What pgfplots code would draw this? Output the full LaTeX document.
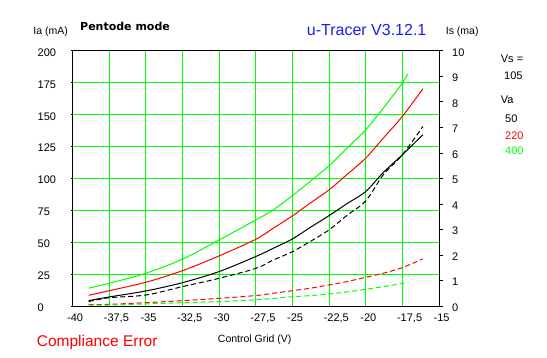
\documentclass[border=0pt]{standalone}
\usepackage{pgfplots}
\pgfplotsset{compat=1.18}
\usepackage{fontspec}
\setmainfont{Liberation Sans}
\newfontfamily\djv{DejaVu Sans}
\definecolor{lime}{RGB}{0,255,0}
\definecolor{tracerblue}{RGB}{30,30,240}
\newcommand\fs[1]{\fontsize{#1bp}{#1bp}\selectfont}

\begin{document}
\begin{tikzpicture}[x=1bp,y=1bp]
\path[use as bounding box, fill=white] (0,0) rectangle (547,357);
\begin{axis}[
  at={(72.5bp,51bp)}, anchor=south west, scale only axis,
  width=366.5bp, height=255bp,
  xmin=-40, xmax=-15, ymin=0, ymax=200,
  xtick={-40,-37.5,-35,-32.5,-30,-27.5,-25,-22.5,-20,-17.5,-15},
  xticklabels={-40,{-37,5},-35,{-32,5},-30,{-27,5},-25,{-22,5},-20,{-17,5},-15},
  ytick={0,25,50,75,100,125,150,175,200},
  yticklabels={0,25,50,75,100,125,150,175,200},
  xmajorgrids, ymajorgrids,
  grid style={lime, line width=1bp},
  xtick style={draw=none},
  ytick style={black, line width=1bp},
  xtick pos=bottom, ytick pos=left, tick align=outside,
  major tick length=2bp,
  axis line style={black, line width=1bp},
  xticklabel style={font=\fs{11}, anchor=north west, inner sep=0pt, xshift=-5.5bp, yshift=-5.7bp},
  yticklabel style={font=\fs{11}, anchor=west, inner sep=0pt, xshift=-33bp, yshift=-1.5bp},
]
% Ia, Va = 400
\addplot[lime, line width=1bp, smooth] coordinates {
(-38.9,14) (-37.5,17.8) (-35,25.7) (-32.5,36.7) (-30,51.8) (-27.5,67.5) (-26.3,75.4)
(-25,86.6) (-23.8,97.6) (-22.5,110) (-21.3,123.5) (-20,138.2) (-18.8,155.2) (-17.5,174.9) (-17.15,181.9)};
% Ia, Va = 220
\addplot[red, line width=1bp, smooth] coordinates {
(-38.9,8.4) (-37.5,12.0) (-35,18.6) (-32.5,27.7) (-30,39.3) (-27.5,52.3) (-26.3,61)
(-25,70.7) (-23.8,80.6) (-22.5,91.1) (-21.3,102.9) (-20,116) (-18.8,131.7) (-17.5,148.7) (-16.1,170.4)};
% Ia, Va = 50
\addplot[black, line width=1bp, smooth] coordinates {
(-38.9,4.2) (-37.5,7.1) (-35,11.8) (-32.5,18.3) (-30,27) (-27.5,38.8) (-26.3,45.3)
(-25,52.6) (-23.8,61.5) (-22.5,70.9) (-21.3,80.1) (-20,89.8) (-18.8,104.7) (-17.5,118.6) (-16.1,134.3)};
\end{axis}
\begin{axis}[
  at={(72.5bp,51bp)}, anchor=south west, scale only axis,
  width=366.5bp, height=255bp,
  xmin=-40, xmax=-15, ymin=0, ymax=10,
  axis y line*=right, axis x line=none,
  ytick={0,1,2,3,4,5,6,7,8,9,10},
  yticklabels={0,1,2,3,4,5,6,7,8,9,10},
  ytick style={black, line width=1bp},
  tick align=outside, major tick length=4bp,
  axis line style={black, line width=1bp, -},
  yticklabel style={font=\fs{11}, anchor=west, inner sep=0pt, xshift=9bp, yshift=-1.5bp},
]
% Is, Va = 50
\addplot[black, line width=1bp, dash pattern=on 5bp off 3bp, smooth] coordinates {
(-38.9,0.175) (-37.5,0.325) (-35,0.43) (-32.5,0.76) (-30,1.085) (-27.5,1.475) (-26.3,1.805)
(-25,2.13) (-23.8,2.525) (-22.5,2.985) (-21.3,3.545) (-20,4.12) (-18.8,5.145) (-17.5,5.93) (-16.1,7.04)};
% Is, Va = 220
\addplot[red, line width=1bp, dash pattern=on 5bp off 3bp, smooth] coordinates {
(-38.9,0.05) (-37.5,0.065) (-35,0.13) (-32.5,0.21) (-30,0.30) (-27.5,0.41) (-26.3,0.50)
(-25,0.60) (-23.8,0.695) (-22.5,0.825) (-21.3,0.955) (-20,1.125) (-18.8,1.285) (-17.5,1.505) (-16.1,1.845)};
% Is, Va = 400
\addplot[lime, line width=1bp, dash pattern=on 5bp off 3bp, smooth] coordinates {
(-38.9,0.04) (-37.5,0.04) (-35,0.08) (-32.5,0.13) (-30,0.17) (-27.5,0.245) (-26.3,0.30)
(-25,0.365) (-23.8,0.405) (-22.5,0.47) (-21.3,0.55) (-20,0.655) (-18.8,0.76) (-17.5,0.88) (-17.15,0.93)};
\end{axis}
\node[anchor=base west, inner sep=0pt, font=\fs{10.5}] at (33.3,322.7) {Ia (mA)};
\node[anchor=base west, inner sep=0pt, font=\djv\bfseries\fs{11}] at (80,326.3) {Pentode mode};
\node[anchor=base west, inner sep=0pt, font=\fs{16}, text=tracerblue] at (306.7,321.7) {u-Tracer V3.12.1};
\node[anchor=base west, inner sep=0pt, font=\fs{10.5}] at (445.7,322.7) {Is (ma)};
\node[anchor=base west, inner sep=0pt, font=\fs{11}] at (500.7,294.8) {Vs =};
\node[anchor=base west, inner sep=0pt, font=\fs{11}] at (504,277.1) {105};
\node[anchor=base west, inner sep=0pt, font=\fs{11}] at (500.7,253.8) {Va};
\node[anchor=base west, inner sep=0pt, font=\fs{11}] at (505,234.8) {50};
\node[anchor=base west, inner sep=0pt, font=\fs{11}, text=red] at (505,217.7) {220};
\node[anchor=base west, inner sep=0pt, font=\fs{11}, text=lime] at (505,203) {400};
\node[anchor=base, inner sep=0pt, font=\fs{10.5}] at (254.7,14.3) {Control Grid (V)};
\node[anchor=base west, inner sep=0pt, font=\fs{15.5}, text=red] at (36.7,10.3) {Compliance Error};
\end{tikzpicture}
\end{document}
